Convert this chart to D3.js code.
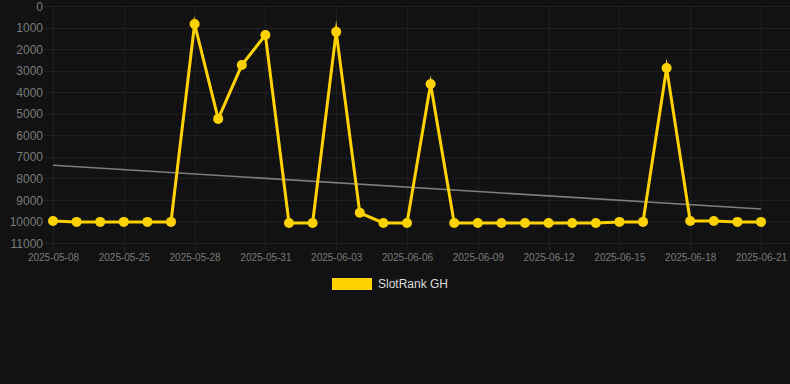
<!DOCTYPE html>
<html><head><meta charset="utf-8">
<script src="https://cdn.jsdelivr.net/npm/d3@7"></script>
<style>
html,body{margin:0;padding:0;background:#121212;}
svg{display:block;}
</style></head>
<body>
<svg id="c" width="790" height="384"></svg>
<script>
const categories = ["2025-05-08","2025-05-16","2025-05-24","2025-05-25","2025-05-26","2025-05-27","2025-05-28","2025-05-29","2025-05-30","2025-05-31","2025-06-01","2025-06-02","2025-06-03","2025-06-04","2025-06-05","2025-06-06","2025-06-07","2025-06-08","2025-06-09","2025-06-10","2025-06-11","2025-06-12","2025-06-13","2025-06-14","2025-06-15","2025-06-16","2025-06-17","2025-06-18","2025-06-19","2025-06-20","2025-06-21"];
const rankValues = [9980,10020,10020,10020,10020,10020,835,5240,2740,1345,10070,10070,1200,9600,10070,10070,3620,10070,10070,10070,10070,10070,10070,10070,10020,10020,2880,9980,9980,10020,10020];
const trendValues = [7390,9420];
const yTicks = [0,1000,2000,3000,4000,5000,6000,7000,8000,9000,10000,11000];
const seriesName = "SlotRank GH";

(function(){
const svg = d3.select("#c");
const W = 790, H = 384;
svg.append("rect").attr("width",W).attr("height",H).attr("fill","#121212");

const pL = 53, pR = 761, pT = 6, pB = 243;
const x = d3.scalePoint().domain(categories).range([pL,pR]);
const y = d3.scaleLinear().domain([0,11000]).range([pT,pB]);

const gridColor = "#1f1f1f";
svg.append("g").selectAll("line").data(yTicks).join("line")
  .attr("x1",pL-9).attr("x2",W).attr("y1",d=>Math.round(y(d))+0.5).attr("y2",d=>Math.round(y(d))+0.5)
  .attr("stroke",gridColor).attr("stroke-width",1);
const xTickCats = categories.filter((d,i)=>i%3===0);
svg.append("g").selectAll("line").data(xTickCats).join("line")
  .attr("x1",d=>Math.round(x(d))+0.5).attr("x2",d=>Math.round(x(d))+0.5).attr("y1",pT).attr("y2",pB+8)
  .attr("stroke",gridColor).attr("stroke-width",1);

const yAxis = d3.axisLeft(y).tickValues(yTicks).tickSize(0).tickPadding(0).tickFormat(d3.format("d"));
const gy = svg.append("g").attr("transform",`translate(${pL-10},0)`).call(yAxis);
gy.select(".domain").remove();
gy.selectAll("text").attr("fill","#7a7a7a").attr("font-family","Liberation Sans, Arial, sans-serif").attr("font-size",12).attr("dy","0.34em");

const xAxis = d3.axisBottom(x).tickValues(xTickCats).tickSize(0).tickPadding(0);
const gx = svg.append("g").attr("transform",`translate(0,${pB+11})`).call(xAxis);
gx.select(".domain").remove();
gx.selectAll("text").attr("fill","#7a7a7a").attr("font-family","Liberation Sans, Arial, sans-serif").attr("font-size",10).attr("dy","0.71em");

svg.append("line")
  .attr("x1",x(categories[0])).attr("y1",y(trendValues[0]))
  .attr("x2",x(categories[categories.length-1])).attr("y2",y(trendValues[1]))
  .attr("stroke","#7e7e7e").attr("stroke-width",1.6);

const yellow = "#FFD200";
const line = d3.line().x((d,i)=>x(categories[i])).y(d=>y(d));
svg.append("path").datum(rankValues).attr("d",line)
  .attr("fill","none").attr("stroke",yellow).attr("stroke-width",3)
  .attr("stroke-linejoin","miter").attr("stroke-miterlimit",10);
svg.append("g").selectAll("circle").data(rankValues).join("circle")
  .attr("cx",(d,i)=>x(categories[i])).attr("cy",d=>y(d)).attr("r",5).attr("fill",yellow);

const lg = svg.append("g");
lg.append("rect").attr("x",332).attr("y",278).attr("width",40).attr("height",12).attr("fill",yellow);
lg.append("text").attr("x",378).attr("y",284).attr("dy","0.35em").text(seriesName)
  .attr("fill","#ddd").attr("font-family","Liberation Sans, Arial, sans-serif").attr("font-size",12);
})();
</script>
</body></html>
